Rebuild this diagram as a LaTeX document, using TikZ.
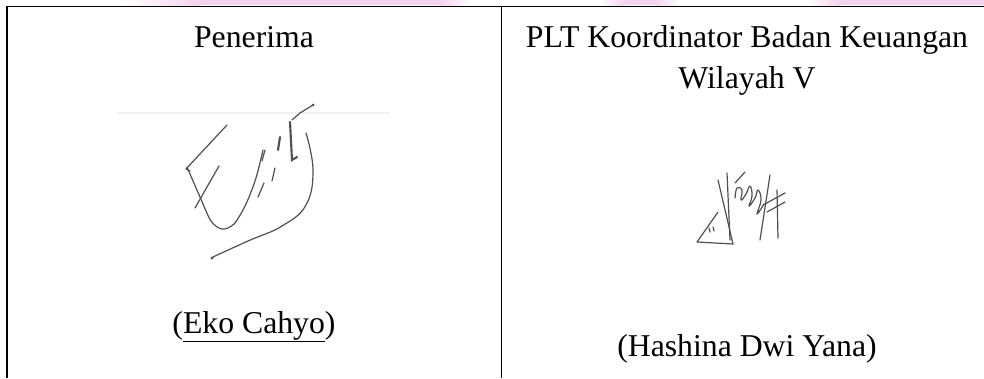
\documentclass[tikz,border=0pt]{standalone}
\usepackage{fontspec}
\setmainfont{Liberation Serif}
\usepackage{tikz}
\usetikzlibrary{positioning}

\definecolor{wmpink}{HTML}{F4D3EE}
\definecolor{inkgray}{HTML}{505050}

\tikzset{
  rule/.style={draw=black, line width=0.9pt},
  label/.style={draw=none, anchor=base, inner sep=0pt, font=\fontsize{23.8pt}{29pt}\selectfont},
  sig/.style={draw=inkgray, line width=0.9pt, line cap=round, line join=round},
  sigthick/.style={draw=inkgray, line width=1.6pt, line cap=round}
}

\begin{document}
\begin{tikzpicture}[x=0.75pt, y=-0.75pt]

\useasboundingbox (0,0) rectangle (984,378);

\def \xleft{7}
\def \xmid{501}
\def \xright{984}
\def \ytop{6.5}
\def \ybot{378}

\def \xcola{254} % centre of first column
\def \xcolb{747} % centre of second column

% pink watermark above the table
\shade[left color=white, right color=wmpink] (125,0) rectangle (200,5.5);
\fill[wmpink] (200,0) rectangle (440,5.5);
\shade[left color=wmpink, right color=white] (440,0) rectangle (472,5.5);
\shade[left color=white, right color=wmpink] (600,0) rectangle (625,5.5);
\shade[left color=wmpink, right color=white] (655,0) rectangle (680,5.5);
\fill[wmpink] (625,0) rectangle (655,5.5);
\shade[left color=white, right color=wmpink] (808,0) rectangle (840,5.5);
\fill[wmpink] (840,0) rectangle (984,5.5);

% table rules
\coordinate (tl) at (\xleft, \ytop);
\coordinate (tm) at (\xmid, \ytop);
\coordinate (tr) at (\xright, \ytop);
\coordinate (bl) at (\xleft, \ybot);
\coordinate (bm) at (\xmid, \ybot);
\draw[rule] (tl) -- (tr);
\draw[rule] (tl) -- (bl);
\draw[rule, line width=0.75pt] (tm) -- (bm);

% headings
\node[label] (receiver) at (\xcola, 48) {Penerima};
\node[label] (office)   at (\xcolb, 48) {PLT Koordinator Badan Keuangan};
\node[label] (region)   at (\xcolb, 89) {Wilayah V};

% signature of the receiver
\draw[draw=black!6, line width=2pt] (117,113) -- (390,113);
\draw[sig] (227,125) -- (186,169) -- (190,171);
\draw[sig] plot[smooth, tension=0.5] coordinates {(187,167) (200,197) (211,221) (222,229) (234,224) (246,204) (256,178) (263,150)};
\draw[sig] (219,166) -- (195,208);
\draw[sig] (258,197) -- (264,183);
\draw[sig] (272,181) -- (275,168);
\draw[sig] (262,161) -- (265,150);
\draw[sigthick] (280,137) -- (278,150);
\draw[sigthick] (290,122) -- (292,160) -- (297,157);
\draw[sig] (313,105) -- (300,113) -- (292,120);
\fill[inkgray] (313,105) circle (1.5);
\draw[sig] plot[smooth, tension=0.7] coordinates {(306,133) (313,170) (306,205) (282,226) (248,241) (213,257)};
\fill[inkgray] (212,258) circle (1.6);

% signature of the coordinator
\draw[sig] (718,212) -- (697,242) -- (733,244);
\draw[sig] (718,180) -- (733,244);
\draw[sig] (727,173) -- (730,240);
\draw[sig] (745,172) -- (735,183);
\draw[sig] plot[smooth, tension=0.8] coordinates {(735,198) (737,188) (742,190) (741,200) (746,194) (750,186) (752,196) (749,206) (755,198) (758,190) (761,200) (757,214) (764,204)};
\draw[sig] (770,175) -- (760,240);
\draw[sig] (777,190) -- (778,238);
\draw[sig] (763,205) -- (785,193);
\draw[sig] (767,212) -- (785,202);
\draw[sig] (709,228) -- (710,232);
\draw[sig] (713,227) -- (714,231);

% names
\node[label] (receivername) at (\xcola, 333) {(\underline{Eko Cahyo})};
\node[label] (officename)   at (\xcolb, 356) {(Hashina Dwi Yana)};

\end{tikzpicture}
\end{document}
